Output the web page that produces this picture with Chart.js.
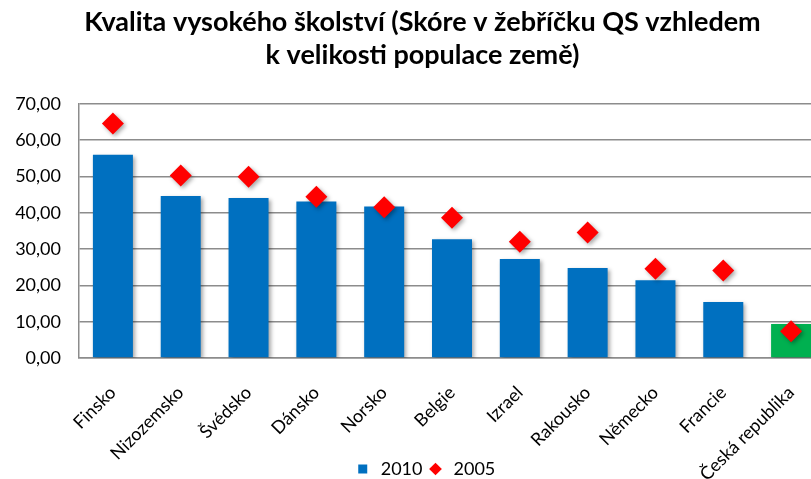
<!DOCTYPE html>
<html>
<head>
<meta charset="utf-8">
<script src="https://cdn.jsdelivr.net/npm/chart.js@4.4.1/dist/chart.umd.min.js"></script>
<style>
  html, body { margin: 0; padding: 0; background: #fff; overflow: hidden; }
  #wrap { width: 844px; height: 479px; }
</style>
</head>
<body>
<div id="wrap"><canvas id="chart"></canvas></div>
<script>
// --- DATA ---
const countries = ['Finsko', 'Nizozemsko', 'Švédsko', 'Dánsko', 'Norsko', 'Belgie',
  'Izrael', 'Rakousko', 'Německo', 'Francie', 'Česká republika'];
const score2010 = [56.0, 44.6, 44.1, 43.1, 41.7, 32.7, 27.3, 24.8, 21.4, 15.4, 9.4];
const score2005 = [64.6, 50.3, 49.9, 44.4, 41.5, 38.6, 32.0, 34.6, 24.6, 24.1, 7.4];
const yTicks = [0, 10, 20, 30, 40, 50, 60, 70];

const FONT = 'Lato, "Open Sans", sans-serif';
const barColors = countries.map(c => c === 'Česká republika' ? '#00b050' : '#0070c0');
const PLOT_BOTTOM = 358;

// soft drop shadow under bars and diamonds, like the office chart
const shadow = {
  id: 'shadow',
  beforeDatasetsDraw(chart) {
    const ctx = chart.ctx;
    ctx.save();
    ctx.shadowColor = 'rgba(0,0,0,0.35)';
    ctx.shadowBlur = 4;
    ctx.shadowOffsetX = 2;
    ctx.shadowOffsetY = 2;
  },
  afterDatasetsDraw(chart) { chart.ctx.restore(); },
  afterLayout(chart) {
    // long rotated labels may run past the legend row instead of being clipped
    chart.scales.x.bottom = chart.height;
    // title and legend sit a little right of the plot's centre in the original
    const t = chart.titleBlock, lg = chart.legend;
    t.left += 10; t.right += 10;
    lg.left += 12; lg.right += 12;
    lg.top += 9; lg.bottom += 9;
  }
};

const ctx = document.getElementById('chart').getContext('2d');
new Chart(ctx, {
  type: 'bar',
  data: {
    labels: countries,
    datasets: [
      {
        label: '2010',
        data: score2010,
        backgroundColor: barColors,
        borderWidth: 0,
        categoryPercentage: 1,
        barPercentage: 0.59,
        order: 1
      },
      {
        type: 'line',
        label: '2005',
        data: score2005,
        showLine: false,
        pointStyle: 'rectRot',
        pointRadius: 11,
        pointHoverRadius: 11,
        pointBackgroundColor: '#ff0000',
        pointBorderWidth: 0,
        backgroundColor: '#ff0000',
        borderColor: '#ff0000',
        order: 0
      }
    ]
  },
  plugins: [shadow],
  options: {
    responsive: true,
    maintainAspectRatio: false,
    animation: false,
    layout: { padding: { left: 0, right: 19, top: 0, bottom: 0 } },
    plugins: {
      title: {
        display: true,
        text: ['Kvalita vysokého školství (Skóre v žebříčku QS vzhledem', 'k velikosti populace země)'],
        color: '#000',
        font: { family: FONT, size: 27, weight: 'bold', lineHeight: 1.22 },
        padding: { top: 6, bottom: 32 }
      },
      legend: {
        position: 'bottom',
        labels: {
          color: '#000',
          font: { family: FONT, size: 18 },
          usePointStyle: true,
          boxHeight: 9,
          padding: 4,
          generateLabels(chart) {
            const items = Chart.defaults.plugins.legend.labels.generateLabels(chart);
            items.sort((a, b) => a.datasetIndex - b.datasetIndex);
            items.forEach(it => {
              it.pointStyle = it.datasetIndex === 0 ? 'rect' : 'rectRot';
              it.fillStyle = it.datasetIndex === 0 ? '#0070c0' : '#ff0000';
              it.lineWidth = 0;
            });
            return items;
          }
        }
      },
      tooltip: { enabled: false }
    },
    scales: {
      x: {
        grid: { display: false, drawTicks: false },
        border: { color: '#8c8c8c', width: 1.5 },
        ticks: {
          color: '#000',
          font: { family: FONT, size: 18 },
          maxRotation: 45,
          minRotation: 45,
          autoSkip: false,
          padding: 24
        },
        afterFit(scale) {
          scale.height = scale.chart.height - PLOT_BOTTOM - scale.chart.legend.height;
        }
      },
      y: {
        min: 0,
        max: 70,
        afterBuildTicks(scale) { scale.ticks = yTicks.map(v => ({ value: v })); },
        grid: { color: '#8c8c8c', lineWidth: 1.5, drawTicks: false },
        border: { color: '#8c8c8c', width: 1.5 },
        ticks: {
          color: '#000',
          font: { family: FONT, size: 18 },
          padding: 18,
          callback: v => v.toFixed(2).replace('.', ',')
        },
        afterFit(scale) { scale.width = 79; }
      }
    }
  }
});
</script>
</body>
</html>
